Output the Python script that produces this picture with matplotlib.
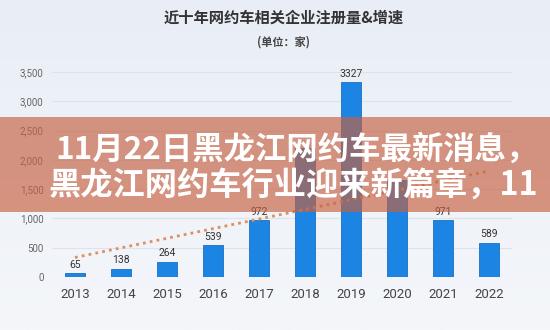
import matplotlib
matplotlib.use("Agg")
import matplotlib.pyplot as plt
import numpy as np
from matplotlib.patches import Rectangle
from matplotlib.ticker import FuncFormatter, MultipleLocator
from matplotlib.colors import LinearSegmentedColormap

plt.rcParams['font.family'] = ['Noto Sans CJK SC', 'DejaVu Sans']

years = ['2013', '2014', '2015', '2016', '2017', '2018', '2019', '2020', '2021', '2022']
registrations = [65, 138, 264, 539, 972, 2200, 3327, 1650, 971, 589]
title = '近十年网约车相关企业注册量&增速'
subtitle = '(单位：家)'
banner_lines = ['11月22日黑龙江网约车最新消息，', '黑龙江网约车行业迎来新篇章，11']

fig = plt.figure(figsize=(5.5, 3.3), dpi=100)
fig.patch.set_facecolor('#eef2f8')

bg = fig.add_axes([0, 0, 1, 1], zorder=-10)
grad = np.linspace(0, 1, 256).reshape(-1, 1)
cm = LinearSegmentedColormap.from_list('bg', ['#e9eef6', '#f4f6fa'])
bg.imshow(grad, aspect='auto', cmap=cm, extent=[0, 1, 0, 1])
bg.axis('off')

banner_bottom, banner_height = 0.3576, 0.2879

ax = fig.add_axes([0.0945, 0.1606, 0.8365, 0.6212])
ax.set_facecolor('none')
x = np.arange(len(years))
ax.bar(x, registrations, width=0.42, color='#1c84e2', edgecolor='#1a6fc0', linewidth=0.6, zorder=3)
ax.set_xlim(-0.5, 9.5)
ax.set_ylim(0, 3500)

for xi, v in zip(x, registrations):
    # labels that sit behind the banner are not visible in the reference
    fy = ax.transData.transform((xi, v + 60))
    fy = fig.transFigure.inverted().transform(fy)[1]
    if banner_bottom + 0.01 < fy < banner_bottom + banner_height:
        continue
    ax.text(xi, v + 60, str(v), ha='center', va='bottom', fontsize=7.5, color='#333333',
            family='Roboto', zorder=4)

coef = np.polyfit(x, registrations, 1)
trend = np.polyval(coef, x)
ax.plot(x, trend, linestyle=(0, (1, 1.5)), color='#dc9060', linewidth=2.0, zorder=5)

ax.yaxis.set_major_locator(MultipleLocator(500))
ax.yaxis.set_major_formatter(FuncFormatter(lambda v, p: f'{int(v):,}'))
ax.grid(axis='y', color='#dde3ec', linewidth=0.8, zorder=0)
for s in ax.spines.values():
    s.set_visible(False)
ax.tick_params(axis='both', length=0)
ax.tick_params(axis='y', labelsize=7, labelcolor='#666666', pad=6)
ax.tick_params(axis='x', labelsize=9.5, labelcolor='#444444', pad=8)
ax.set_xticks(x)
ax.set_xticklabels(years, family='Roboto')
for lab in ax.get_yticklabels():
    lab.set_family('Roboto')

fig.text(0.515, 0.948, title, ha='center', va='center', fontsize=11, fontweight='bold', color='#333333')
fig.text(0.515, 0.873, subtitle, ha='center', va='center', fontsize=8, fontweight='bold', color='#444444')

fig.patches.append(Rectangle((0, banner_bottom), 1, banner_height, transform=fig.transFigure,
                             facecolor='#c66141', alpha=0.66, edgecolor='none', zorder=20))
fig.text(0.101, 0.545, banner_lines[0], ha='left', va='center', fontsize=22.6,
         fontweight='bold', color='white', zorder=30)
fig.text(0.088, 0.436, banner_lines[1], ha='left', va='center', fontsize=23.2,
         fontweight='bold', color='white', zorder=30)

fig.savefig('out.png', dpi=100)
